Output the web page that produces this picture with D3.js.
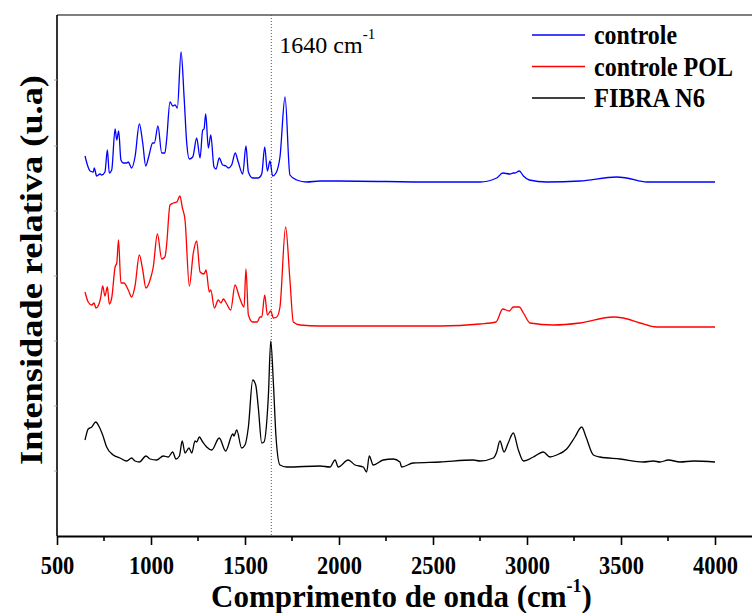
<!DOCTYPE html>
<html>
<head>
<meta charset="utf-8">
<script src="https://cdn.jsdelivr.net/npm/d3@7"></script>
<style>
  body { margin: 0; background: #fff; }
  text { font-family: "Liberation Serif", "Times New Roman", serif; }
</style>
</head>
<body>
<div id="chart"></div>
<script>
// wavenumber (cm-1) and relative intensity (a.u.)
const controleWn = [649,676,693,698,711,729,738,755,768,778,791,809,818,828,840,853,871,879,897,915,938,956,972,986,1009,1018,1037,1057,1074,1083,1101,1116,1128,1140,1160,1176,1190,1204,1222,1243,1261,1275,1282,1291,1305,1318,1335,1346,1363,1381,1399,1411,1429,1448,1464,1488,1505,1518,1541,1571,1589,1605,1619,1633,1647,1665,1686,1713,1739,1775,1828,1899,2000,2500,2750,2839,2871,2910,2927,2936,2959,2981,3012,3105,3282,3477,3530,3637,3814,4000];
const controleI = [380,365,364,368,360,362,361,364,386,363,366,407,396,405,376,373,373,374,368,379,412,393,370,378,393,393,410,383,383,396,434,430,431,428,484,439,393,377,379,398,378,406,407,422,388,401,369,367,378,371,370,368,371,383,374,362,390,364,358,358,362,389,365,375,360,363,379,439,361,356,354,355,355,354,354,358,363,362,363,363,365,360,356,354,355,359,358,354,354,354];

const polWn = [649,666,685,697,707,725,732,743,755,768,778,791,809,818,827,840,856,879,897,915,938,956,973,995,1012,1034,1057,1074,1083,1101,1119,1137,1154,1166,1181,1204,1225,1243,1261,1282,1293,1310,1318,1337,1358,1372,1385,1403,1424,1447,1470,1495,1505,1518,1541,1565,1580,1589,1605,1619,1637,1651,1669,1686,1716,1739,1757,1793,1899,2537,2750,2835,2871,2906,2927,2959,2981,3016,3140,3282,3459,3512,3601,3690,4000];
const polI = [244,234,231,233,228,233,238,250,240,249,232,238,269,273,296,253,253,246,239,250,281,266,248,256,269,302,277,279,291,331,333,334,340,329,316,250,283,295,264,262,266,244,246,228,236,233,237,232,226,251,239,229,267,221,214,214,219,219,241,221,225,218,219,229,309,256,214,211,210,210,212,214,227,225,229,229,223,213,211,213,219,218,213,209,209];

const fibraWn = [649,654,666,685,706,725,743,764,799,835,871,897,915,938,973,995,1030,1065,1092,1115,1133,1151,1166,1181,1202,1217,1234,1243,1257,1275,1296,1323,1363,1397,1435,1441,1456,1482,1500,1518,1541,1557,1571,1589,1601,1624,1637,1651,1665,1686,1722,1899,1952,1979,1996,2049,2085,2129,2147,2161,2182,2235,2288,2324,2333,2395,2537,2714,2750,2821,2839,2856,2878,2900,2927,2954,2981,3034,3087,3122,3158,3211,3255,3291,3314,3353,3388,3495,3619,3672,3707,3752,3814,3885,4000];
const fibraI = [96,100,107,109,114,109,101,89,81,78,75,78,75,74,80,77,76,80,79,84,77,80,95,83,88,83,95,94,99,94,89,86,98,85,102,100,106,88,91,109,156,151,128,93,94,139,195,153,99,71,69,70,69,76,69,76,71,69,64,80,71,76,77,74,69,73,74,76,75,78,84,95,84,93,103,86,75,79,84,79,81,87,99,109,99,81,79,77,74,75,74,76,74,75,74];

const seriesNames = ["controle", "controle POL", "FIBRA N6"];
const seriesColors = ["#0000ff", "#ff0000", "#000000"];
const xTicks = [500, 1000, 1500, 2000, 2500, 3000, 3500, 4000];
const markerWn = 1640;

const series = [
  { name: seriesNames[0], color: seriesColors[0], pts: controleWn.map((w, i) => [w, controleI[i]]) },
  { name: seriesNames[1], color: seriesColors[1], pts: polWn.map((w, i) => [w, polI[i]]) },
  { name: seriesNames[2], color: seriesColors[2], pts: fibraWn.map((w, i) => [w, fibraI[i]]) }
];

const width = 752, height = 613;
const margin = { top: 15, left: 57, bottom: 536 };

const svg = d3.select("#chart").append("svg")
  .attr("width", width)
  .attr("height", height);

const x = d3.scaleLinear().domain([500, 4200]).range([margin.left, margin.left + 3700 * 0.188]);
const y = d3.scaleLinear().domain([0, 521]).range([margin.bottom, margin.top]);

// squeeze a text horizontally so its width matches the figure's condensed type
function squeeze(node, target) {
  const w = node.getBBox().width;
  return w > 0 ? Math.min(1, target / w) : 1;
}

// frame lines (left and top)
svg.append("line")
  .attr("x1", margin.left).attr("x2", margin.left)
  .attr("y1", margin.top).attr("y2", margin.bottom)
  .attr("stroke", "#000").attr("stroke-width", 1.6);
svg.append("line")
  .attr("x1", margin.left).attr("x2", width)
  .attr("y1", margin.top).attr("y2", margin.top)
  .attr("stroke", "#000").attr("stroke-width", 1.2);

// faint ticks on the left axis
svg.selectAll(".ytick")
  .data([80, 146, 211, 276, 341, 406, 471])
  .enter().append("line")
  .attr("x1", margin.left - 3).attr("x2", margin.left)
  .attr("y1", d => d).attr("y2", d => d)
  .attr("stroke", "#aaa").attr("stroke-width", 1);

// bottom axis
const xAxis = svg.append("g")
  .attr("transform", "translate(0," + margin.bottom + ")")
  .call(d3.axisBottom(x).tickValues(xTicks).tickFormat(d3.format("d"))
    .tickSize(9).tickSizeOuter(0).tickPadding(11));
xAxis.select(".domain").attr("stroke-width", 2);
xAxis.selectAll(".tick line").attr("stroke-width", 1.6);
xAxis.selectAll(".tick text")
  .attr("font-family", "Liberation Serif")
  .attr("font-weight", "bold")
  .attr("font-size", 25)
  .attr("fill", "#000")
  .attr("transform", "scale(0.9,1)");

// minor ticks
svg.selectAll(".minor")
  .data(xTicks.map(t => t + 250).filter(t => t <= 4200))
  .enter().append("line")
  .attr("x1", d => x(d)).attr("x2", d => x(d))
  .attr("y1", margin.bottom).attr("y2", margin.bottom + 5)
  .attr("stroke", "#000").attr("stroke-width", 1.6);

// 1640 marker
svg.append("line")
  .attr("x1", x(markerWn)).attr("x2", x(markerWn))
  .attr("y1", margin.top).attr("y2", margin.bottom)
  .attr("stroke", "#555").attr("stroke-width", 1)
  .attr("stroke-dasharray", "1,2");
const mk = svg.append("text")
  .attr("x", x(markerWn) + 8).attr("y", 53)
  .attr("font-size", 24).attr("fill", "#000");
mk.append("tspan").text(markerWn + " cm");
mk.append("tspan").attr("font-size", 15).attr("dy", -14).text("-1");

// spectra
const line = d3.line()
  .x(d => x(d[0]))
  .y(d => y(d[1]))
  .curve(d3.curveMonotoneX);

svg.selectAll(".spec")
  .data(series)
  .enter().append("path")
  .attr("class", "spec")
  .attr("fill", "none")
  .attr("stroke", d => d.color)
  .attr("stroke-width", 1.3)
  .attr("d", d => line(d.pts));

// legend
const legendW = [83, 139, 111];
const legend = svg.selectAll(".legend")
  .data(series)
  .enter().append("g")
  .attr("transform", (d, i) => "translate(532," + (35 + i * 31.5) + ")");
legend.append("line")
  .attr("x1", 0).attr("x2", 53)
  .attr("stroke", d => d.color).attr("stroke-width", 1.3);
legend.append("text")
  .attr("font-weight", "bold").attr("font-size", 28)
  .text(d => d.name)
  .each(function(d, i) {
    const k = squeeze(this, legendW[i]);
    d3.select(this).attr("transform", "translate(62,9) scale(" + k + ",1)");
  });

// axis titles
const xt = svg.append("text")
  .attr("font-weight", "bold").attr("font-size", 31);
xt.append("tspan").text("Comprimento de onda (cm");
xt.append("tspan").attr("font-size", 18).attr("dy", -15).text("-1");
xt.append("tspan").attr("dy", 15).text(")");
xt.attr("transform", "translate(211,607) scale(" + squeeze(xt.node(), 386) + ",1)");

const yt = svg.append("text")
  .attr("text-anchor", "middle")
  .attr("font-weight", "bold").attr("font-size", 31)
  .text("Intensidade relativa (u.a)");
yt.attr("transform", "translate(42,270) rotate(-90) scale(" + (390 / yt.node().getBBox().width) + ",1)");
</script>
</body>
</html>
